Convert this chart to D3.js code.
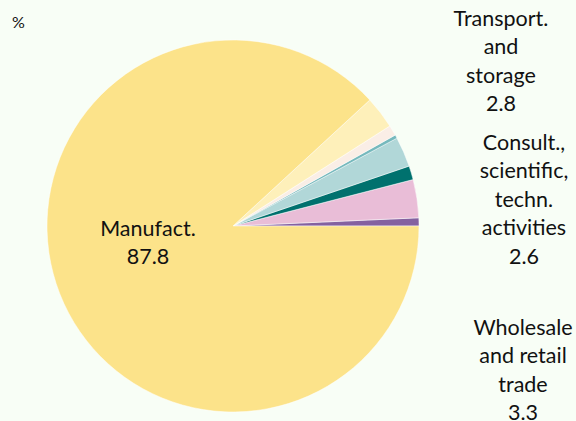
<!DOCTYPE html>
<html>
<head>
<meta charset="utf-8">
<script src="https://cdn.jsdelivr.net/npm/d3@7"></script>
<style>
  body { margin: 0; background: #f8fef6; }
  svg { display: block; font-family: Lato, "Open Sans", sans-serif; }
</style>
</head>
<body>
<div id="chart"></div>
<script>
// slices, counter-clockwise from 3 o'clock
const sectors = ['Other 1', 'Wholesale and retail trade', 'Other 2', 'Consult., scientific, techn. activities', 'Other 3', 'Other 4', 'Transport. and storage', 'Manufact.'];
const shares = [0.7, 3.3, 1.2, 2.6, 0.3, 0.9, 2.8, 87.8];
const colors = ['#8461a0', '#e9bdd7', '#00716e', '#b1d7d8', '#76b9bd', '#faeee6', '#fef0ba', '#fce38a'];

const width = 576;
const height = 421;
const cx = 233, cy = 226, radius = 186;

const svg = d3.select('#chart')
    .append('svg')
    .attr('width', width)
    .attr('height', height);

const pie = d3.pie()
    .sort(null)
    .value(d => d)
    .startAngle(Math.PI / 2)
    .endAngle(Math.PI / 2 - 2 * Math.PI);

const arc = d3.arc().innerRadius(0).outerRadius(radius);

const g = svg.append('g').attr('transform', `translate(${cx},${cy})`);

g.selectAll('path')
    .data(pie(shares))
    .enter().append('path')
    .attr('d', arc)
    .attr('fill', (d, i) => colors[i])
    .attr('stroke', '#ffffff')
    .attr('stroke-width', 0.6)
    .attr('stroke-opacity', 0.8);

// labels
const labels = [
    { lines: ['Transport.', 'and', 'storage', '2.8'], x: 501, y: 18 },
    { lines: ['Consult.,', 'scientific,', 'techn.', 'activities', '2.6'], x: 524, y: 142 },
    { lines: ['Wholesale', 'and retail', 'trade', '3.3'], x: 523, y: 327 },
    { lines: ['Manufact.', '87.8'], x: 148, y: 228 }
];
const lineH = 28.5;

svg.selectAll('text.lbl')
    .data(labels)
    .enter().append('text')
    .attr('class', 'lbl')
    .attr('text-anchor', 'middle')
    .attr('font-size', 21.5)
    .attr('fill', '#111')
    .each(function (d) {
        d3.select(this).selectAll('tspan')
            .data(d.lines)
            .enter().append('tspan')
            .attr('x', d.x)
            .attr('y', (t, i) => d.y + i * lineH)
            .attr('dy', '0.35em')
            .text(t => t);
    });

svg.append('text')
    .attr('x', 12)
    .attr('y', 22)
    .attr('dy', '0.35em')
    .attr('font-size', 16)
    .attr('fill', '#111')
    .text('%');
</script>
</body>
</html>
